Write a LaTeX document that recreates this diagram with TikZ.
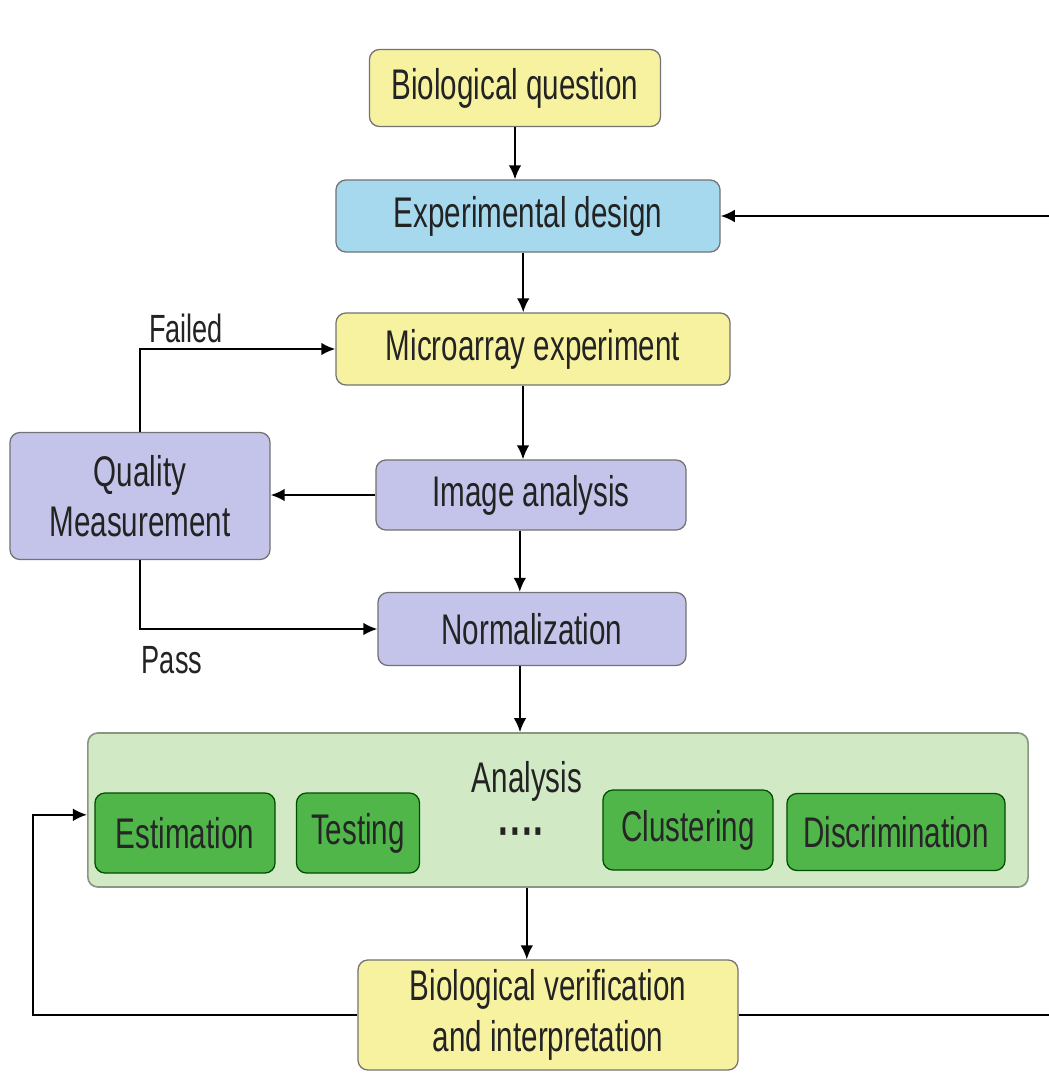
\documentclass[tikz,border=0pt]{standalone}
\usepackage{fontspec}
\setmainfont[FakeStretch=0.69]{Liberation Sans}
\usetikzlibrary{arrows.meta}
\definecolor{cyel}{RGB}{247,242,160}
\definecolor{cblue}{RGB}{166,216,238}
\definecolor{clav}{RGB}{196,196,234}
\definecolor{cpale}{RGB}{210,233,198}
\definecolor{cgreen}{RGB}{80,182,74}
\definecolor{ctext}{RGB}{35,35,35}
\begin{document}
\begin{tikzpicture}[x=0.025cm,y=-0.025cm,
  base/.style={rounded corners=0.25cm, draw=black!55, line width=0.9pt, inner sep=0pt, align=center,
    text=ctext, font=\fontsize{30.5}{36}\selectfont},
  yel/.style={base, fill=cyel},
  blu/.style={base, fill=cblue},
  lav/.style={base, fill=clav},
  grn/.style={base, fill=cgreen, draw=black!50!green!60!black, text=black!85},
  cont/.style={base, fill=cpale, draw=black!35!cpale, line width=1.2pt},
  lbl/.style={text=ctext, font=\fontsize{28}{32}\selectfont, inner sep=0pt},
  arr/.style={draw=black, line width=1.4pt, -{Latex[length=10pt,width=9pt]}},
  ln/.style={draw=black, line width=1.4pt}]
\useasboundingbox[fill=white] (0,0) rectangle (1049,1079);
\node[yel, minimum width=7.275cm, minimum height=1.925cm] (bq) at (515,88) {Biological question};
\node[blu, minimum width=9.6cm, minimum height=1.8cm] (ed) at (528,216) {Experimental design};
\node[yel, minimum width=9.85cm, minimum height=1.8cm] (me) at (533,349) {Microarray experiment};
\node[lav, minimum width=6.5cm, minimum height=3.175cm] (qm) at (140,496) {Quality\\Measurement};
\node[lav, minimum width=7.75cm, minimum height=1.75cm] (ia) at (531,495) {Image analysis};
\node[lav, minimum width=7.7cm, minimum height=1.825cm] (nm) at (532,629) {Normalization};
\node[cont, minimum width=23.5cm, minimum height=3.85cm] (an) at (558,810) {};
\node[lbl, font=\fontsize{30.5}{36}\selectfont] (anl) at (527,781) {Analysis};
\node[grn, minimum width=4.5cm, minimum height=2cm] (es) at (185,833) {Estimation};
\node[grn, minimum width=3.075cm, minimum height=2cm] (te) at (358,833) {Testing};
\node[lbl, font=\bfseries\fontsize{36}{36}\selectfont] (dots) at (522,838) {····};
\node[grn, minimum width=4.25cm, minimum height=2cm] (cl) at (688,830) {Clustering};
\node[grn, minimum width=5.45cm, minimum height=1.925cm] (di) at (896,832) {Discrimination};
\node[yel, minimum width=9.5cm, minimum height=2.75cm] (bv) at (548,1015) {Biological verification\\and interpretation};
\node[lbl] (fl) at (186,328) {Failed};
\node[lbl] (ps) at (172,660) {Pass};
\coordinate (rc) at (1056,1012);
\coordinate (lc) at (33,1012);
% main flow
\draw[arr] (bq.south) -- (bq.south |- ed.north);
\draw[arr] ([xshift=-0.12cm]ed.south) -- ([xshift=-0.12cm]ed.south |- me.north);
\draw[arr] ([xshift=-0.25cm]me.south) -- ([xshift=-0.25cm]me.south |- ia.north);
\draw[arr] ([xshift=-0.28cm]ia.south) -- ([xshift=-0.28cm]ia.south |- nm.north);
\draw[arr] ([xshift=-0.3cm]nm.south) -- ([xshift=-0.3cm]nm.south |- an.north);
\draw[arr] ([xshift=-0.78cm]an.south) -- ([xshift=-0.78cm]an.south |- bv.north);
% quality loop
\draw[arr] (ia.west) -- (ia.west -| qm.east);
\draw[arr] (qm.north) |- (me.west);
\draw[arr] (qm.south) |- (nm.west);
% feedback loops
\draw[arr] (bv.east) -- (bv.east -| rc) |- (ed.east);
\draw[arr] (bv.west) -- (bv.west -| lc) |- ([yshift=-0.12cm]an.west);
\end{tikzpicture}
\end{document}
